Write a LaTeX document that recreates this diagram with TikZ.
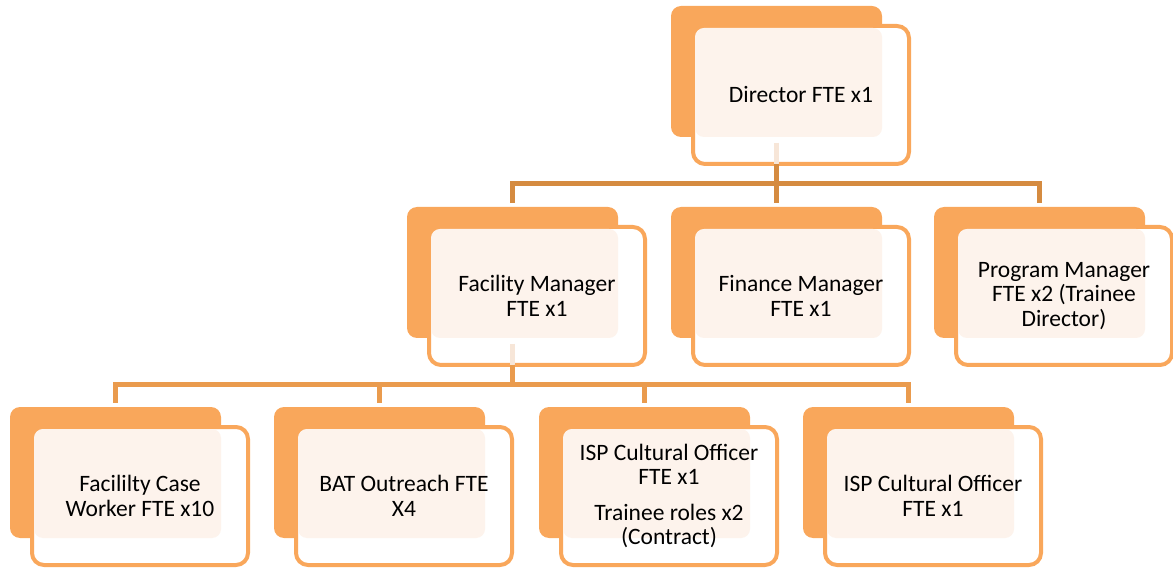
\documentclass[tikz,border=0pt]{standalone}
\usepackage{fontspec}
\setmainfont{Carlito}
\usetikzlibrary{calc}
\definecolor{boxorange}{HTML}{F9A75B}
\definecolor{creamfill}{HTML}{FDF3EC}
\definecolor{connA}{HTML}{D58B40}
\definecolor{connB}{HTML}{EA9B4D}
\definecolor{faintline}{HTML}{F7E6D8}
\newcommand\orgbox[4]{%
  \node[backbox, anchor=north west] (#1b) at (#2,#3) {};
  \node[frontbox, anchor=north west] (#1f) at (#2+22,#3+20) {};
  \fill[creamfill, rounded corners=9pt] ([xshift=2pt,yshift=-2pt]#1f.north west) rectangle (#1b.south east);
  \node[boxtext] (#1t) at (#1f.center) {#4};
}
\begin{document}
\begin{tikzpicture}[x=1pt,y=-1pt,
  backbox/.style={rectangle, inner sep=0pt, outer sep=0pt, minimum width=211pt, minimum height=131pt, rounded corners=10pt, fill=boxorange},
  frontbox/.style={rectangle, inner sep=0pt, outer sep=0pt, minimum width=216pt, minimum height=138pt, rounded corners=12pt, fill=white, draw=boxorange, line width=4pt},
  boxtext/.style={font=\fontsize{23.5}{24.5}\selectfont, align=center, text=black, inner sep=0pt},
  connTop/.style={draw=connA, line width=5pt, line join=miter},
  connBot/.style={draw=connB, line width=5pt, line join=miter},
  faint/.style={draw=faintline, line width=5pt}]
\useasboundingbox (0,0) rectangle (1173,569);

\orgbox{dir}{671}{6}{Director FTE x1}
\orgbox{fac}{407}{207}{Facility Manager\\FTE x1}
\orgbox{fin}{671}{207}{Finance Manager\\FTE x1}
\orgbox{prog}{934}{207}{Program Manager\\FTE x2 (Trainee\\Director)}
\orgbox{case}{10}{407}{Facililty Case\\Worker FTE x10}
\orgbox{bat}{274}{407}{BAT Outreach FTE\\X4}
\orgbox{ispa}{539}{407}{ISP Cultural Officer\\FTE x1\\[11pt]Trainee roles x2\\(Contract)}
\orgbox{ispb}{803}{407}{ISP Cultural Officer\\FTE x1}

% faint segments inside front boxes
\draw[faint] ([yshift=-6pt]dirb.south) -- (dirb.south |- dirf.south);
\draw[faint] ([yshift=-6pt]facb.south) -- (facb.south |- facf.south);

% top level connectors
\coordinate (jtop) at (776.5,184);
\foreach \c in {fac,fin,prog}{
  \draw[connTop] (dirb.south |- dirf.south) -- (jtop) -| ([yshift=4pt]\c b.north);
}
% second level connectors
\coordinate (jbot) at (512.5,384.5);
\foreach \c in {case,bat,ispa,ispb}{
  \draw[connBot] (facb.south |- facf.south) -- (jbot) -| ([yshift=4pt]\c b.north);
}
\end{tikzpicture}
\end{document}
